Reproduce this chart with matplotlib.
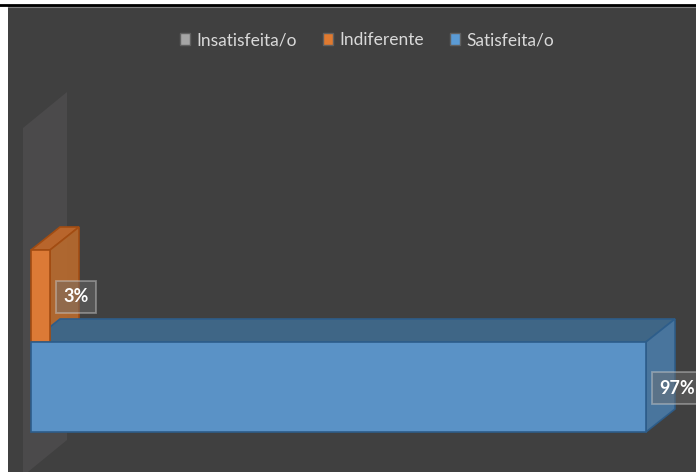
import matplotlib
matplotlib.use("Agg")
import matplotlib.pyplot as plt
from matplotlib.patches import Polygon, Rectangle, Patch

# series (one category, stacked in depth like an Excel 3-D bar chart)
series = ["Insatisfeita/o", "Indiferente", "Satisfeita/o"]
values = [0, 3, 97]
labels = ["", "3%", "97%"]

front = {"Insatisfeita/o": "#8c8c8c", "Indiferente": "#dc7a36", "Satisfeita/o": "#5a92c6"}
top = {"Insatisfeita/o": "#6e6e6e", "Indiferente": "#b8652c", "Satisfeita/o": "#3f6686"}
side = {"Insatisfeita/o": "#777777", "Indiferente": "#b4692f", "Satisfeita/o": "#4a79a3"}
edge = {"Insatisfeita/o": "#5a5a5a", "Indiferente": "#a24c12", "Satisfeita/o": "#2d5d8a"}
legend_col = {"Insatisfeita/o": "#a5a5a5", "Indiferente": "#e07a30", "Satisfeita/o": "#5b9bd5"}

W, H = 696, 472
fig = plt.figure(figsize=(W / 100, H / 100), dpi=100, facecolor="white")

# dark chart area + top rule
fig.patches.append(Rectangle((8 / W, 0), 1, (H - 6) / H, transform=fig.transFigure,
                             facecolor="#404040", edgecolor="none", zorder=-1))
fig.add_artist(plt.Line2D([0, 1], [1 - 4.5 / H] * 2, transform=fig.transFigure,
                          color="black", lw=2))
fig.add_artist(plt.Line2D([8 / W, 1], [1 - 6.5 / H] * 2, transform=fig.transFigure,
                          color="#808080", lw=0.8))

ax = fig.add_axes([0, 0, 1, 1])
ax.set_zorder(2)
ax.set_facecolor("none")
px = 6.34  # pixels per percent
x0 = 31
ax.set_xlim(-x0 / px, (W - x0) / px)
ax.set_ylim(H, 0)
ax.axis("off")

dx, dy = 29 / px, -23  # bar depth
# floor / back wall at value 0
wdx, wdy = 44 / px, -36
wl = -8 / px
ax.add_patch(Polygon([(wl, 476), (wl, 128), (wl + wdx, 128 + wdy), (wl + wdx, 476 + wdy)],
                     closed=True, facecolor="#4b4a4b", edgecolor="none", zorder=1))

centers = [204, 296, 387]
heights = [92, 92, 90]

for name, v, lab, yc, h in zip(series, values, labels, centers, heights):
    if v <= 0:
        continue
    y0, y1 = yc - h / 2, yc + h / 2
    ax.add_patch(Polygon([(0, y0), (v, y0), (v + dx, y0 + dy), (dx, y0 + dy)], closed=True,
                         facecolor=top[name], edgecolor=edge[name], lw=1.2, zorder=2))
    ax.add_patch(Polygon([(v, y0), (v + dx, y0 + dy), (v + dx, y1 + dy), (v, y1)], closed=True,
                         facecolor=side[name], edgecolor=edge[name], lw=1.2, zorder=2, alpha=0.95))
    ax.barh(yc, v, height=h, left=0, color=front[name], edgecolor=edge[name], lw=1.2, zorder=3)
    ax.text(v + 13 / px, yc + 1, lab, ha="left", va="center", color="white", fontsize=13,
            fontweight="bold", family="Lato", zorder=5,
            bbox=dict(boxstyle="square,pad=0.4", facecolor="#6f6f6f", alpha=0.45,
                      edgecolor="#d0d0d0", lw=1.3))

handles = [Patch(facecolor=legend_col[s], edgecolor="#606060", label=s) for s in series]
leg = fig.legend(handles=handles, loc="center", bbox_to_anchor=(367 / W, 1 - 40 / H), ncol=3,
                 frameon=False, handlelength=0.6, handleheight=0.75, handletextpad=0.35,
                 columnspacing=1.5, prop={"family": "Lato", "size": 12.5})
for t in leg.get_texts():
    t.set_color("#d9d9d9")

fig.savefig("out.png", dpi=100, facecolor="white")
